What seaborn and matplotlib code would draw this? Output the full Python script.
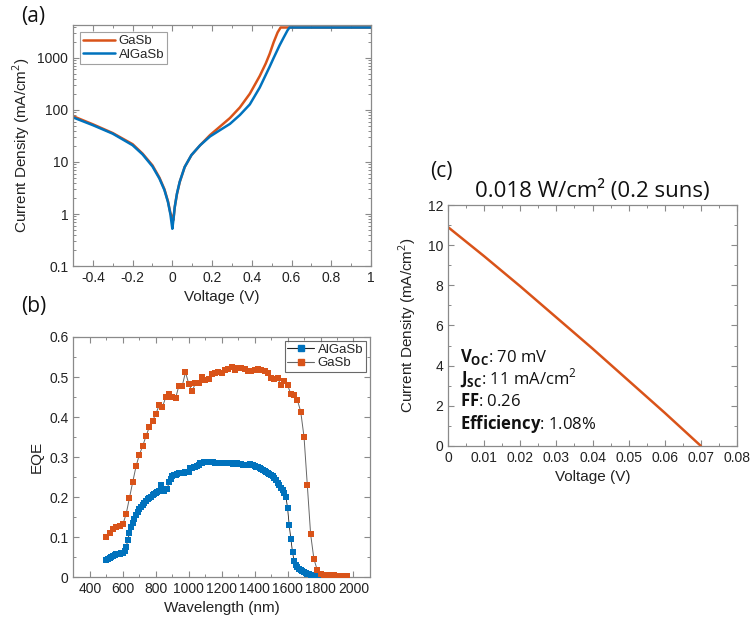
import matplotlib
matplotlib.use('Agg')
import matplotlib.pyplot as plt
from matplotlib.lines import Line2D
from matplotlib.ticker import MultipleLocator, FuncFormatter, LogLocator
import seaborn as sns
import numpy as np
import pandas as pd

# ---- (a) dark J-V, log scale ----
v_gasb = [-0.5, -0.4, -0.3, -0.2, -0.15, -0.1, -0.065, -0.04, -0.022, -0.01, 0.0, 0.005,
          0.012, 0.023, 0.037, 0.062, 0.096, 0.14, 0.19, 0.24, 0.29, 0.34, 0.39, 0.44,
          0.47, 0.49, 0.51, 0.53, 0.545, 0.6, 1.0]
j_gasb = [76, 53, 36, 22, 14.5, 8.6, 5.0, 3.0, 1.75, 1.05, 0.85, 0.76,
          1.35, 2.4, 4.1, 8.0, 13.5, 21, 33, 48, 70, 112, 205, 450,
          780, 1200, 2000, 3100, 3850, 3850, 3850]
v_algasb = [-0.5, -0.4, -0.3, -0.2, -0.15, -0.1, -0.065, -0.04, -0.022, -0.01, 0.0, 0.005,
            0.012, 0.023, 0.037, 0.062, 0.096, 0.14, 0.19, 0.24, 0.29, 0.34, 0.39, 0.44,
            0.49, 0.51, 0.54, 0.56, 0.58, 0.59, 1.0]
j_algasb = [72, 51, 35, 21, 14, 8.2, 4.8, 2.9, 1.7, 1.0, 0.52, 0.75,
            1.35, 2.45, 4.15, 8.0, 13.6, 21, 31, 41, 54, 80, 128, 270,
            680, 1000, 1750, 2450, 3400, 3850, 3850]

# ---- (b) EQE ----
wl_gasb = list(range(500, 1961, 20))
eqe_gasb = [0.100, 0.110, 0.120, 0.125, 0.128, 0.132, 0.158, 0.198, 0.238, 0.277,
            0.306, 0.327, 0.352, 0.374, 0.391, 0.407, 0.430, 0.425, 0.449, 0.457,
            0.449, 0.447, 0.478, 0.477, 0.512, 0.483, 0.464, 0.484, 0.484, 0.500,
            0.493, 0.495, 0.507, 0.510, 0.512, 0.511, 0.517, 0.521, 0.525, 0.517,
            0.523, 0.522, 0.520, 0.514, 0.514, 0.518, 0.521, 0.517, 0.514, 0.511,
            0.498, 0.496, 0.498, 0.479, 0.489, 0.479, 0.458, 0.454, 0.442, 0.413,
            0.350, 0.229, 0.107, 0.045, 0.018, 0.008, 0.006, 0.005, 0.004, 0.004,
            0.003, 0.003, 0.003, 0.003]
wl_algasb = list(range(500, 1791, 10))
eqe_algasb = [0.043, 0.045, 0.048, 0.050, 0.053, 0.055, 0.057, 0.057, 0.058, 0.059,
              0.060, 0.065, 0.075, 0.093, 0.110, 0.126, 0.136, 0.146, 0.155, 0.163,
              0.169, 0.175, 0.181, 0.186, 0.190, 0.194, 0.198, 0.201, 0.204, 0.207,
              0.210, 0.212, 0.214, 0.229, 0.218, 0.215, 0.219, 0.221, 0.238, 0.245,
              0.252, 0.254, 0.256, 0.258, 0.259, 0.259, 0.260, 0.261, 0.262, 0.263,
              0.262, 0.272, 0.273, 0.274, 0.275, 0.278, 0.281, 0.285, 0.286, 0.287,
              0.288, 0.288, 0.288, 0.287, 0.287, 0.287, 0.286, 0.286, 0.285, 0.286,
              0.285, 0.285, 0.284, 0.284, 0.284, 0.285, 0.284, 0.283, 0.283, 0.284,
              0.283, 0.282, 0.282, 0.281, 0.281, 0.280, 0.281, 0.282, 0.279, 0.279,
              0.278, 0.276, 0.274, 0.272, 0.270, 0.268, 0.266, 0.263, 0.261, 0.258,
              0.255, 0.252, 0.248, 0.243, 0.236, 0.229, 0.222, 0.217, 0.210, 0.200,
              0.173, 0.129, 0.096, 0.062, 0.040, 0.030, 0.024, 0.020, 0.017, 0.014,
              0.012, 0.010, 0.008, 0.007, 0.006, 0.005, 0.004, 0.003, 0.002, 0.002]

# ---- (c) illuminated J-V ----
v_light = [0.0, 0.01, 0.02, 0.03, 0.04, 0.05, 0.06, 0.07]
j_light = [10.9, 9.45, 7.95, 6.4, 4.85, 3.25, 1.65, 0.0]
stats_lines = [r'$\mathbf{V_{OC}}$: 70 mV',
               r'$\mathbf{J_{SC}}$: 11 mA/cm$^2$',
               r'$\mathbf{FF}$: 0.26',
               r'$\mathbf{Efficiency}$: 1.08%']

orange = '#D95319'
blue = '#0072BD'
frame = '#8a8a8a'
txt = '#222222'

sns.set_theme(style='ticks')
plt.rcParams['font.family'] = ['Liberation Sans', 'DejaVu Sans']
plt.rcParams['axes.unicode_minus'] = False
plt.rcParams['mathtext.fontset'] = 'custom'
plt.rcParams['mathtext.rm'] = 'Open Sans'
plt.rcParams['mathtext.bf'] = 'Open Sans:bold'
plt.rcParams['axes.edgecolor'] = frame
plt.rcParams['axes.linewidth'] = 0.9

fig = plt.figure(figsize=(7.56, 6.22), dpi=100)
ax_a = fig.add_axes([0.0966, 0.5723, 0.3941, 0.3875])
ax_b = fig.add_axes([0.0972, 0.0723, 0.3921, 0.3859])
ax_c = fig.add_axes([0.5926, 0.2830, 0.3823, 0.3874])

fmt = FuncFormatter(lambda v, p: f'{v:g}')


def style_ticks(ax):
    ax.tick_params(which='both', direction='in', top=True, right=True,
                   color=frame, labelsize=10, labelcolor=txt)
    ax.tick_params(which='major', length=4.5, width=0.8)
    ax.tick_params(which='minor', length=2.5, width=0.7)


# (a)
df_a = pd.concat([pd.DataFrame({'V': v_gasb, 'J': j_gasb, 'Sample': 'GaSb'}),
                  pd.DataFrame({'V': v_algasb, 'J': j_algasb, 'Sample': 'AlGaSb'})])
sns.lineplot(data=df_a, x='V', y='J', hue='Sample', palette={'GaSb': orange, 'AlGaSb': blue},
             sort=False, estimator=None, lw=1.8, ax=ax_a)
ax_a.set_yscale('log')
ax_a.set_xlim(-0.5, 1)
ax_a.set_ylim(0.1, 4300)
ax_a.xaxis.set_major_locator(MultipleLocator(0.2))
ax_a.xaxis.set_minor_locator(MultipleLocator(0.1))
ax_a.xaxis.set_major_formatter(fmt)
ax_a.yaxis.set_major_locator(LogLocator(base=10))
ax_a.yaxis.set_minor_locator(LogLocator(base=10, subs=np.arange(2, 10)))
ax_a.yaxis.set_major_formatter(fmt)
ax_a.yaxis.set_minor_formatter(FuncFormatter(lambda v, p: ''))
ax_a.set_xlabel('Voltage (V)', fontsize=11, color=txt)
ax_a.set_ylabel('Current Density (mA/cm$^2$)', fontsize=11, color=txt, labelpad=3)
style_ticks(ax_a)
leg = ax_a.legend(loc='upper left', fontsize=9.5, frameon=True, fancybox=False,
                  edgecolor=frame, handlelength=2.4, borderpad=0.25, labelspacing=0.1,
                  handletextpad=0.3, borderaxespad=0.5)
leg.get_frame().set_linewidth(0.8)

# (b)
df_b1 = pd.DataFrame({'wl': wl_algasb, 'eqe': eqe_algasb})
df_b2 = pd.DataFrame({'wl': wl_gasb, 'eqe': eqe_gasb})
sns.lineplot(data=df_b1, x='wl', y='eqe', color='#222222', lw=0.6, ax=ax_b)
sns.lineplot(data=df_b2, x='wl', y='eqe', color='#666666', lw=0.7, ax=ax_b)
sns.scatterplot(data=df_b1, x='wl', y='eqe', color=blue, marker='s', s=16, linewidth=0, ax=ax_b, zorder=3)
sns.scatterplot(data=df_b2, x='wl', y='eqe', color=orange, marker='s', s=16, linewidth=0, ax=ax_b, zorder=3)
ax_b.set_xlim(300, 2100)
ax_b.set_ylim(0, 0.6)
ax_b.xaxis.set_major_locator(MultipleLocator(200))
ax_b.xaxis.set_minor_locator(MultipleLocator(100))
ax_b.yaxis.set_major_locator(MultipleLocator(0.1))
ax_b.yaxis.set_minor_locator(MultipleLocator(0.05))
ax_b.yaxis.set_major_formatter(fmt)
ax_b.set_xlabel('Wavelength (nm)', fontsize=11, color=txt)
ax_b.set_ylabel('EQE', fontsize=11, color=txt)
style_ticks(ax_b)
handles = [Line2D([], [], color='#222222', lw=0.8, marker='s', ms=4.5, mfc=blue, mec=blue),
           Line2D([], [], color='#666666', lw=0.8, marker='s', ms=4.5, mfc=orange, mec=orange)]
leg = ax_b.legend(handles, ['AlGaSb', 'GaSb'], loc='upper right', fontsize=9.5, frameon=True,
                  fancybox=False, edgecolor='#444444', handlelength=2.0, borderpad=0.2,
                  labelspacing=0.1, handletextpad=0.3, borderaxespad=0.3)
leg.get_frame().set_linewidth(0.8)

# (c)
df_c = pd.DataFrame({'V': v_light, 'J': j_light})
sns.lineplot(data=df_c, x='V', y='J', color=orange, lw=1.8, ax=ax_c)
ax_c.set_xlim(0, 0.08)
ax_c.set_ylim(0, 12)
ax_c.xaxis.set_major_locator(MultipleLocator(0.01))
ax_c.xaxis.set_minor_locator(MultipleLocator(0.005))
ax_c.yaxis.set_major_locator(MultipleLocator(2))
ax_c.yaxis.set_minor_locator(MultipleLocator(1))
ax_c.xaxis.set_major_formatter(fmt)
ax_c.set_xlabel('Voltage (V)', fontsize=11, color=txt)
ax_c.set_ylabel('Current Density (mA/cm$^2$)', fontsize=11, color=txt, labelpad=6)
style_ticks(ax_c)
ax_c.set_title('0.018 W/cm² (0.2 suns)', fontsize=16, family='Open Sans', color='#111111', pad=6)
for ypos, line in zip([0.37, 0.28, 0.185, 0.093], stats_lines):
    ax_c.text(0.042, ypos, line, transform=ax_c.transAxes, fontsize=12, family='Open Sans',
              va='center', ha='left', color='#111111')

# panel labels
fig.text(0.044, 0.974, '(a)', fontsize=15, family='Open Sans', ha='center', va='center', color='#111111')
fig.text(0.044, 0.508, '(b)', fontsize=15, family='Open Sans', ha='center', va='center', color='#111111')
fig.text(0.584, 0.724, '(c)', fontsize=15, family='Open Sans', ha='center', va='center', color='#111111')

fig.savefig('out.png', dpi=100, facecolor='white')
